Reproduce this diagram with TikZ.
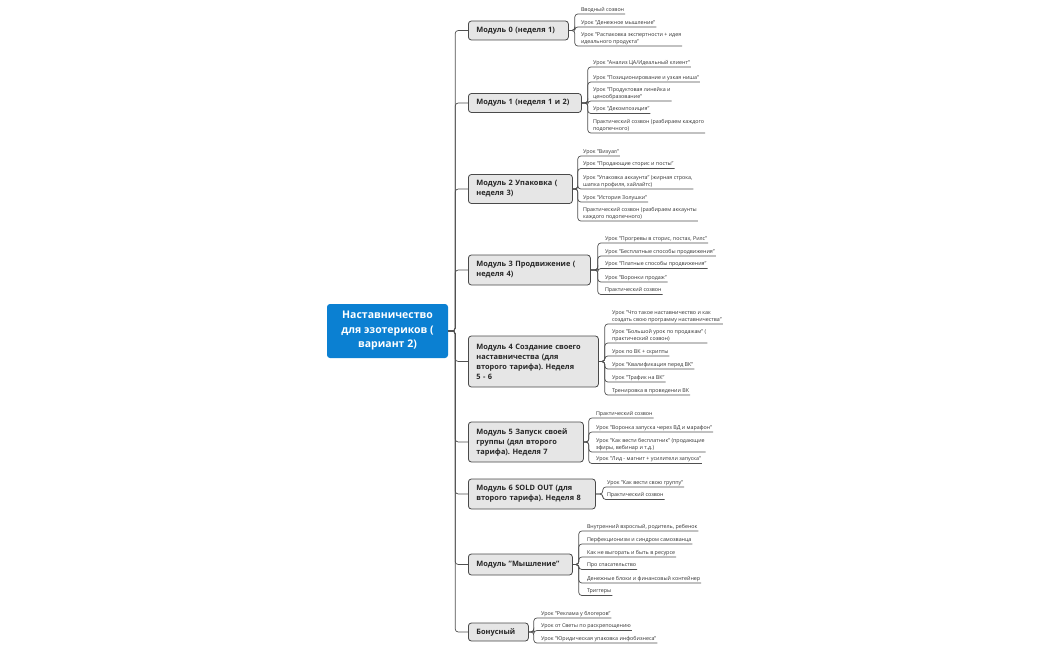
\documentclass[tikz,border=0pt]{standalone}
\usepackage{fontspec}
\setmainfont{Open Sans}
\frenchspacing
\definecolor{rootblue}{HTML}{0B80D2}
\definecolor{modfill}{HTML}{E6E6E6}
\definecolor{modline}{HTML}{4A4A4A}
\definecolor{connline}{HTML}{505050}
\tikzset{
  conn/.style={draw=connline, line width=0.7pt, rounded corners=3pt},
  rootbox/.style={fill=rootblue, draw=none, rounded corners=3pt, text=white,
    font=\bfseries\fontsize{10.5}{14.5}\selectfont, align=center,
    minimum width=121pt, minimum height=54pt, inner sep=2pt},
  modbox/.style={fill=modfill, draw=modline, line width=0.8pt, rounded corners=3pt,
    font=\bfseries\fontsize{7.4}{10}\selectfont, align=left, anchor=west,
    inner xsep=8pt, inner ysep=3pt, text=black!85},
  leaf/.style={anchor=south west, inner xsep=0.8pt, inner ysep=1.4pt,
    font=\fontsize{5.35}{7}\selectfont, align=left, text=black!80},
}
\newcommand\lf[6]{%
  \node[leaf] (#1) at (#4,#5) {#6};
  \draw[conn] (#2.east) -- ++(#3,0) |- (#1.south east);}
\begin{document}
\begin{tikzpicture}[x=1pt,y=-1pt]
\useasboundingbox (0,0) rectangle (1050,650);
\fill[white] (0,0) rectangle (1050,650);

\node[rootbox] (root) at (387.5,331) {Наставничество\\для эзотериков (\\вариант 2)};

\node[modbox, text width=84pt, minimum height=19pt] (m0) at (468,30.5) {Модуль 0 (неделя 1)};
\node[modbox, text width=97pt, minimum height=19pt] (m1) at (468,103) {Модуль 1 (неделя 1 и 2)};
\node[modbox, text width=88pt, minimum height=29pt] (m2) at (468,189) {Модуль 2 Упаковка (\\неделя 3)};
\node[modbox, text width=106pt, minimum height=30pt] (m3) at (468,270) {Модуль 3 Продвижение (\\неделя 4)};
\node[modbox, text width=114pt, minimum height=51pt] (m4) at (468,361.5) {Модуль 4 Создание своего\\наставничества (для\\второго тарифа). Неделя\\5 - 6};
\node[modbox, text width=99pt, minimum height=40pt] (m5) at (468,442) {Модуль 5 Запуск своей\\группы (дял второго\\тарифа). Неделя 7};
\node[modbox, text width=111pt, minimum height=30pt] (m6) at (468,494) {Модуль 6 SOLD OUT (для\\второго тарифа). Неделя 8};
\node[modbox, text width=88pt, minimum height=21pt] (m7) at (468,564.5) {Модуль "Мышление"};
\node[modbox, text width=44pt, minimum height=18pt] (m8) at (468,632) {Бонусный};

\foreach \m in {m0,m1,m2,m3,m4,m5,m6,m7,m8}
  \draw[conn] (root.east) -- ++(7,0) |- (\m.west);

% Module 0
\lf{a1}{m0}{6}{580}{14}{Вводный созвон}
\lf{a2}{m0}{6}{580}{27}{Урок "Денежное мышление"}
\lf{a3}{m0}{6}{580}{46}{Урок "Распаковка экспертности + идея\\идеального продукта"}
% Module 1
\lf{b1}{m1}{6}{592}{67}{Урок "Анализ ЦА/Идеальный клиент"}
\lf{b2}{m1}{6}{592}{82}{Урок "Позиционирование и узкая ниша"}
\lf{b3}{m1}{6}{592}{101}{Урок "Продуктовая линейка и\\ценообразование"}
\lf{b4}{m1}{6}{592}{113.5}{Урок "Декомпозиция"}
\lf{b5}{m1}{6}{592}{133}{Практический созвон (разбираем каждого\\подопечного)}
% Module 2
\lf{c1}{m2}{5}{582}{156}{Урок "Визуал"}
\lf{c2}{m2}{5}{582}{168.5}{Урок "Продающие сторис и посты"}
\lf{c3}{m2}{5}{582}{189}{Урок "Упаковка аккаунта" (жирная строка,\\шапка профиля, хайлайтс)}
\lf{c4}{m2}{5}{582}{202}{Урок "История Золушки"}
\lf{c5}{m2}{5}{582}{221}{Практический созвон (разбираем аккаунты\\каждого подопечного)}
% Module 3
\lf{d1}{m3}{7}{604}{243}{Урок "Прогревы в сторис, постах, Рилс"}
\lf{d2}{m3}{7}{604}{256}{Урок "Бесплатные способы продвижения"}
\lf{d3}{m3}{7}{604}{268.5}{Урок "Платные способы продвижения"}
\lf{d4}{m3}{7}{604}{282}{Урок "Воронки продаж"}
\lf{d5}{m3}{7}{604}{294.5}{Практический созвон}
% Module 4
\lf{e1}{m4}{6}{611}{324}{Урок "Что такое наставничество и как\\создать свою программу наставничества"}
\lf{e2}{m4}{6}{611}{343}{Урок "Большой урок по продажам" (\\практический созвон)}
\lf{e3}{m4}{6}{611}{356}{Урок по ВК + скрипты}
\lf{e4}{m4}{6}{611}{369}{Урок "Квалификация перед ВК"}
\lf{e5}{m4}{6}{611}{382}{Урок "Трафик на ВК"}
\lf{e6}{m4}{6}{611}{395}{Тренировка в проведении ВК}
% Module 5
\lf{f1}{m5}{5}{595}{418}{Практический созвон}
\lf{f2}{m5}{5}{595}{432}{Урок "Воронка запуска через ВД и марафон"}
\lf{f3}{m5}{5}{595}{452}{Урок "Как вести бесплатник" (продающие\\эфиры, вебинар и т.д.)}
\lf{f4}{m5}{5}{595}{463.5}{Урок "Лид - магнит + усилители запуска"}
% Module 6
\lf{g1}{m6}{7}{606}{487}{Урок "Как вести свою группу"}
\lf{g2}{m6}{7}{606}{499.5}{Практический созвон}
% Module Mind
\lf{h1}{m7}{6}{586}{531}{Внутренний взрослый, родитель, ребенок}
\lf{h2}{m7}{6}{586}{544}{Перфекционизм и синдром самозванца}
\lf{h3}{m7}{6}{586}{557}{Как не выгорать и быть в ресурсе}
\lf{h4}{m7}{6}{586}{569.5}{Про спасательство}
\lf{h5}{m7}{6}{586}{583}{Денежные блоки и финансовый контейнер}
\lf{h6}{m7}{6}{586}{595.5}{Триггеры}
% Bonus
\lf{k1}{m8}{5}{540}{618}{Урок "Реклама у блогеров"}
\lf{k2}{m8}{5}{540}{630.5}{Урок от Светы по раскрепощению}
\lf{k3}{m8}{5}{540}{643}{Урок "Юридическая упаковка инфобизнеса"}
\end{tikzpicture}
\end{document}
